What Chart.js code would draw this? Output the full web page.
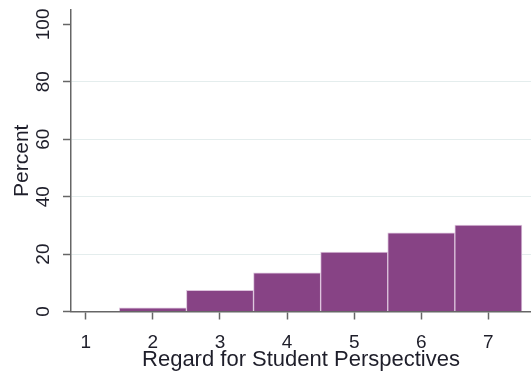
<!DOCTYPE html>
<html>
<head>
<meta charset="utf-8">
<script src="https://cdn.jsdelivr.net/npm/chart.js@4"></script>
<style>
  html, body { margin: 0; padding: 0; background: #fff; }
  #wrap { width: 531px; height: 376px; }
</style>
</head>
<body>
<div id="wrap"><canvas id="c" width="531" height="376"></canvas></div>
<script>
// Score categories on the x axis and the share of observations in each (percent)
const categories = [1, 2, 3, 4, 5, 6, 7];
const percents = [0, 1.3, 7.4, 13.5, 20.7, 27.4, 30.1];
const yTicks = [0, 20, 40, 60, 80, 100];

const textColor = '#1e1e2a';
const axisColor = '#666';
const fontFamily = '"Liberation Sans", Arial, sans-serif';

// Vertical (rotated) labels for the y-axis ticks
const yTickLabels = {
  id: 'yTickLabels',
  afterDraw(chart) {
    const y = chart.scales.y;
    const ctx = chart.ctx;
    ctx.save();
    ctx.fillStyle = textColor;
    ctx.font = '19px ' + fontFamily;
    ctx.textAlign = 'center';
    ctx.textBaseline = 'alphabetic';
    yTicks.forEach(v => {
      const py = y.getPixelForValue(v);
      ctx.save();
      ctx.translate(49, py);
      ctx.rotate(-Math.PI / 2);
      ctx.fillText(String(v), 0, 0);
      ctx.restore();
    });
    ctx.restore();
  }
};

new Chart(document.getElementById('c'), {
  type: 'bar',
  data: {
    datasets: [{
      data: categories.map((c, i) => ({ x: c, y: percents[i] })),
      backgroundColor: '#874385',
      borderColor: '#dcc3dc',
      borderWidth: 1,
      borderSkipped: 'bottom',
      barPercentage: 1,
      categoryPercentage: 1
    }]
  },
  options: {
    responsive: false,
    animation: false,
    devicePixelRatio: 1,
    layout: { padding: { top: 10, right: 0, left: 0, bottom: 0 } },
    plugins: { legend: { display: false }, tooltip: { enabled: false } },
    scales: {
      x: {
        type: 'linear',
        offset: false,
        min: 0.78,
        max: 7.635,
        afterFit(scale) { scale.height = 64.5; },
        afterBuildTicks(scale) { scale.ticks = categories.map(v => ({ value: v })); },
        grid: {
          offset: false,
          drawOnChartArea: false,
          drawTicks: true,
          tickLength: 8,
          tickColor: axisColor,
          tickWidth: 1.5
        },
        border: { color: axisColor, width: 1.5 },
        ticks: {
          color: textColor,
          font: { size: 19, family: fontFamily },
          padding: 12,
          maxRotation: 0,
          autoSkip: false
        },
        title: {
          display: true,
          text: 'Regard for Student Perspectives',
          color: textColor,
          font: { size: 22, family: fontFamily },
          padding: { top: 0, bottom: 3 }
        }
      },
      y: {
        min: 0,
        max: 105,
        afterFit(scale) { scale.width = 71; },
        afterBuildTicks(scale) { scale.ticks = yTicks.map(v => ({ value: v })); },
        grid: {
          color: ctx => (ctx.tick && ctx.tick.value > 0 && ctx.tick.value < 100) ? '#e4eded' : 'rgba(0,0,0,0)',
          lineWidth: 1,
          drawTicks: true,
          tickLength: 8,
          tickColor: axisColor,
          tickWidth: 1.5
        },
        border: { color: axisColor, width: 1.5 },
        ticks: { display: false },
        title: {
          display: true,
          text: 'Percent',
          color: textColor,
          font: { size: 21, family: fontFamily },
          padding: { top: 10, bottom: 0 }
        }
      }
    }
  },
  plugins: [yTickLabels]
});
</script>
</body>
</html>
